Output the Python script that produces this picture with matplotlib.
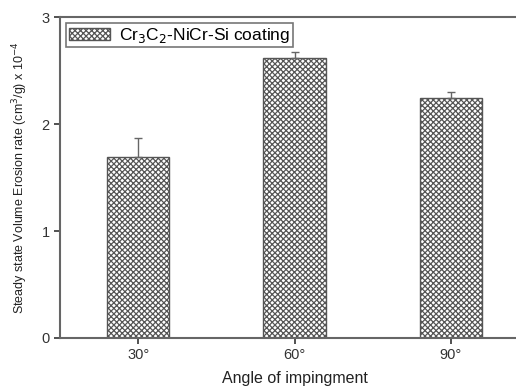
import matplotlib.pyplot as plt
import numpy as np

angles = ['30°', '60°', '90°']
erosion = [1.69, 2.62, 2.24]
errors = [0.18, 0.05, 0.06]

plt.rcParams['font.family'] = ['Liberation Sans', 'DejaVu Sans']
plt.rcParams['hatch.linewidth'] = 0.9
plt.rcParams['hatch.color'] = '#555555'

fig = plt.figure(figsize=(5.16, 3.88), dpi=100)
ax = fig.add_axes([0.1163, 0.1289, 0.909, 0.827])

x = np.arange(1, len(angles) + 1)
ax.bar(x, erosion, width=0.4, color='white', edgecolor='#555555', hatch='xxxxxx',
       linewidth=1.0, label='Cr$_3$C$_2$-NiCr-Si coating')
ax.errorbar(x, erosion, yerr=[np.zeros(len(errors)), errors], fmt='none',
            ecolor='#666666', elinewidth=1.0, capsize=3, capthick=1.0)

ax.set_xlim(0.5, 3.5)
ax.set_ylim(0, 3)
ax.set_xticks(x)
ax.set_xticklabels(angles)
ax.set_yticks([0, 1, 2, 3])
ax.tick_params(axis='both', direction='out', length=4, width=1.2,
               colors='#333333', labelsize=10.5)
for sp in ax.spines.values():
    sp.set_color('#666666')
    sp.set_linewidth(1.5)

ax.set_xlabel('Angle of impingment', fontsize=11.5, color='#222222', labelpad=6)
ax.set_ylabel('Steady state Volume Erosion rate (cm$^3$/g) x 10$^{-4}$',
              fontsize=9, color='#222222', labelpad=8)

leg = ax.legend(loc='upper left', fontsize=12.5, fancybox=False,
                edgecolor='#555555', handlelength=2.4, handleheight=0.7,
                handletextpad=0.5, borderaxespad=0.35, borderpad=0.15)
leg.get_frame().set_linewidth(1.2)

fig.savefig('out.png', dpi=100)
